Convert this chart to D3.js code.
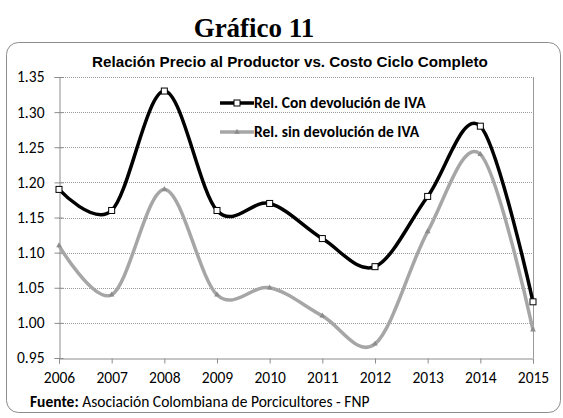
<!DOCTYPE html>
<html>
<head>
<meta charset="utf-8">
<script src="https://cdn.jsdelivr.net/npm/d3@7"></script>
<style>
  body { margin: 0; background: #fff; }
</style>
</head>
<body>
<svg id="chart" width="563" height="418"></svg>
<script>
// datos
var years = [2006, 2007, 2008, 2009, 2010, 2011, 2012, 2013, 2014, 2015]
var conIva = [1.19, 1.16, 1.33, 1.16, 1.17, 1.12, 1.08, 1.18, 1.28, 1.03]
var sinIva = [1.11, 1.04, 1.19, 1.04, 1.05, 1.01, 0.97, 1.13, 1.24, 0.99]
var yTicks = [0.95, 1.00, 1.05, 1.10, 1.15, 1.20, 1.25, 1.30, 1.35]
var seriesNames = ["Rel. Con devolución de IVA", "Rel. sin devolución de IVA"]

var svg = d3.select("#chart")
var plotLeft = 59, plotRight = 533, plotTop = 77, plotBottom = 358
var font = "Carlito, 'Open Sans', sans-serif"
var fs = 15.5

svg.append("text")
   .attr("x", 254).attr("y", 37)
   .attr("text-anchor", "middle")
   .attr("font-family", "'Liberation Serif', 'Times New Roman', serif")
   .attr("font-weight", "bold")
   .attr("font-size", 27)
   .text("Gráfico 11")

svg.append("rect")
   .attr("x", 6.5).attr("y", 42.5)
   .attr("width", 554).attr("height", 370)
   .attr("rx", 12)
   .attr("fill", "none")
   .attr("stroke", "#8c8c8c")

svg.append("text")
   .attr("x", 290).attr("y", 67)
   .attr("text-anchor", "middle")
   .attr("font-family", "'Liberation Sans', Arial, sans-serif")
   .attr("font-weight", "bold")
   .attr("font-size", 15.2)
   .text("Relación Precio al Productor vs. Costo Ciclo Completo")

var x = d3.scaleLinear().domain([2006, 2015]).range([plotLeft, plotRight])
var y = d3.scaleLinear().domain([0.95, 1.35]).range([plotBottom, plotTop])

// líneas de cuadrícula
svg.append("g")
   .selectAll("line")
   .data(yTicks.slice(1))
   .join("line")
   .attr("x1", plotLeft).attr("x2", plotRight)
   .attr("y1", function (d) { return Math.round(y(d)) + 0.5 })
   .attr("y2", function (d) { return Math.round(y(d)) + 0.5 })
   .attr("stroke", "#9a9a9a")
   .attr("stroke-dasharray", "1,1")

svg.append("line")
   .attr("x1", plotRight + 0.5).attr("x2", plotRight + 0.5)
   .attr("y1", plotTop).attr("y2", plotBottom)
   .attr("stroke", "#9a9a9a")

var yAxis = d3.axisLeft(y).tickValues(yTicks).tickFormat(d3.format(".2f")).tickSize(5).tickPadding(10)
var gy = svg.append("g").attr("transform", "translate(" + (plotLeft + 0.5) + ",0)").call(yAxis)
gy.selectAll(".tick line").attr("x1", 4)
var xAxis = d3.axisBottom(x).tickValues(years).tickFormat(d3.format("d")).tickSize(5).tickPadding(8)
var gx = svg.append("g").attr("transform", "translate(0," + (plotBottom + 0.5) + ")").call(xAxis)

;[gx, gy].forEach(function (g) {
    g.select(".domain").attr("stroke", "#8c8c8c")
    g.selectAll(".tick line").attr("stroke", "#8c8c8c")
    g.selectAll("text").attr("font-family", font).attr("font-size", fs).attr("fill", "#000")
})

var line = d3.line()
             .x(function (d, i) { return x(years[i]) })
             .y(function (d) { return y(d) })
             .curve(d3.curveCardinal.tension(0))

svg.append("path").datum(sinIva)
   .attr("d", line).attr("fill", "none")
   .attr("stroke", "#a6a6a6").attr("stroke-width", 3.5)

svg.append("path").datum(conIva)
   .attr("d", line).attr("fill", "none")
   .attr("stroke", "#000").attr("stroke-width", 3.5)

var tri = d3.symbol().type(d3.symbolTriangle).size(14)
svg.append("g").selectAll("path")
   .data(sinIva).join("path")
   .attr("transform", function (d, i) { return "translate(" + x(years[i]) + "," + y(d) + ")" })
   .attr("d", tri)
   .attr("fill", "#8c8c8c")

svg.append("g").selectAll("rect")
   .data(conIva).join("rect")
   .attr("x", function (d, i) { return x(years[i]) - 3 })
   .attr("y", function (d) { return y(d) - 3 })
   .attr("width", 6).attr("height", 6)
   .attr("fill", "#fff").attr("stroke", "#000").attr("stroke-width", 1)

// leyenda
var legend = svg.append("g")
var legY = [103, 132]
legend.append("line").attr("x1", 220).attr("x2", 254).attr("y1", legY[0]).attr("y2", legY[0])
      .attr("stroke", "#000").attr("stroke-width", 3.5)
legend.append("rect").attr("x", 234).attr("y", legY[0] - 3).attr("width", 6).attr("height", 6)
      .attr("fill", "#fff").attr("stroke", "#000")
legend.append("line").attr("x1", 220).attr("x2", 254).attr("y1", legY[1]).attr("y2", legY[1])
      .attr("stroke", "#a6a6a6").attr("stroke-width", 3.5)
legend.append("path").attr("transform", "translate(237," + legY[1] + ")").attr("d", tri).attr("fill", "#8c8c8c")
legend.selectAll("text")
      .data(seriesNames).join("text")
      .attr("x", 254)
      .attr("y", function (d, i) { return legY[i] + 5 })
      .attr("font-family", font)
      .attr("font-weight", "bold")
      .attr("font-size", fs)
      .text(function (d) { return d })

var src = svg.append("text")
   .attr("x", 30).attr("y", 407)
   .attr("font-family", font)
   .attr("font-size", fs)
src.append("tspan").attr("font-weight", "bold").text("Fuente:")
src.append("tspan").text(" Asociación Colombiana de Porcicultores - FNP")
</script>
</body>
</html>
